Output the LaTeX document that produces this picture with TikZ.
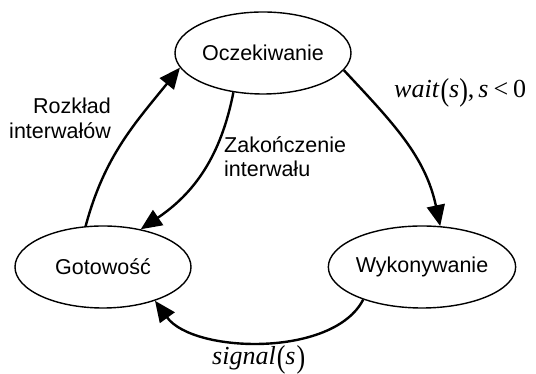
\documentclass[tikz,border=0pt]{standalone}
\usepackage{fontspec}
\setmainfont{Liberation Sans}
\newfontfamily\serifmath{Liberation Serif}
\usetikzlibrary{shapes.geometric,arrows.meta}
% tall upright parentheses for the formula labels
\newcommand{\lpar}{\raisebox{-2.5pt}{\scalebox{1}[1.22]{(}}}
\newcommand{\rpar}{\raisebox{-2.5pt}{\scalebox{1}[1.22]{)}}}
\begin{document}
\begin{tikzpicture}[x=1pt,y=1pt,
  state/.style={ellipse,draw,line width=1.4pt,minimum width=176pt,minimum height=82pt,
    inner sep=0pt,font=\fontsize{21.5}{25}\selectfont},
  trans/.style={line width=2.4pt,-{Triangle[length=21pt,width=18pt]}},
  lbl/.style={font=\fontsize{21.5}{25}\selectfont,inner sep=0pt},
  mathlbl/.style={font=\serifmath\fontsize{26}{28}\selectfont,inner sep=0pt}]
  \useasboundingbox (0,0) rectangle (536,374);

  % states
  \node[state] (o) at (263,321) {Oczekiwanie};
  \node[state] (g) at (103,107) {Gotowość};
  \node[state] (w) at (422,107) {Wykonywanie};

  % transitions
  \draw[trans] (g.113) to[out=75,in=-129] (o.190);
  \draw[trans] (o.233) to[out=-101,in=34] (g.45);
  \draw[trans] (o.348) to[out=-47,in=102] (w.66);
  \draw[trans] (w.209) to[out=-117,in=-54,looseness=0.8] (g.327);

  % labels
  \node[lbl,align=right,anchor=east] (l1) at (111,256) {Rozkład\\interwałów};
  \node[lbl,align=left,anchor=west] (l2) at (224,217.5) {Zakończenie\\[-1pt]interwału};
  \node[mathlbl,anchor=base west] (l3) at (394,276)
    {\textit{wait}\kern1pt\lpar\textit{s}\rpar,\kern4pt\textit{s}\kern5pt<\kern5pt0};
  \node[mathlbl,anchor=base west] (l4) at (212,9)
    {\textit{signal}\kern1pt\lpar\textit{s}\kern1pt\rpar};
\end{tikzpicture}
\end{document}
